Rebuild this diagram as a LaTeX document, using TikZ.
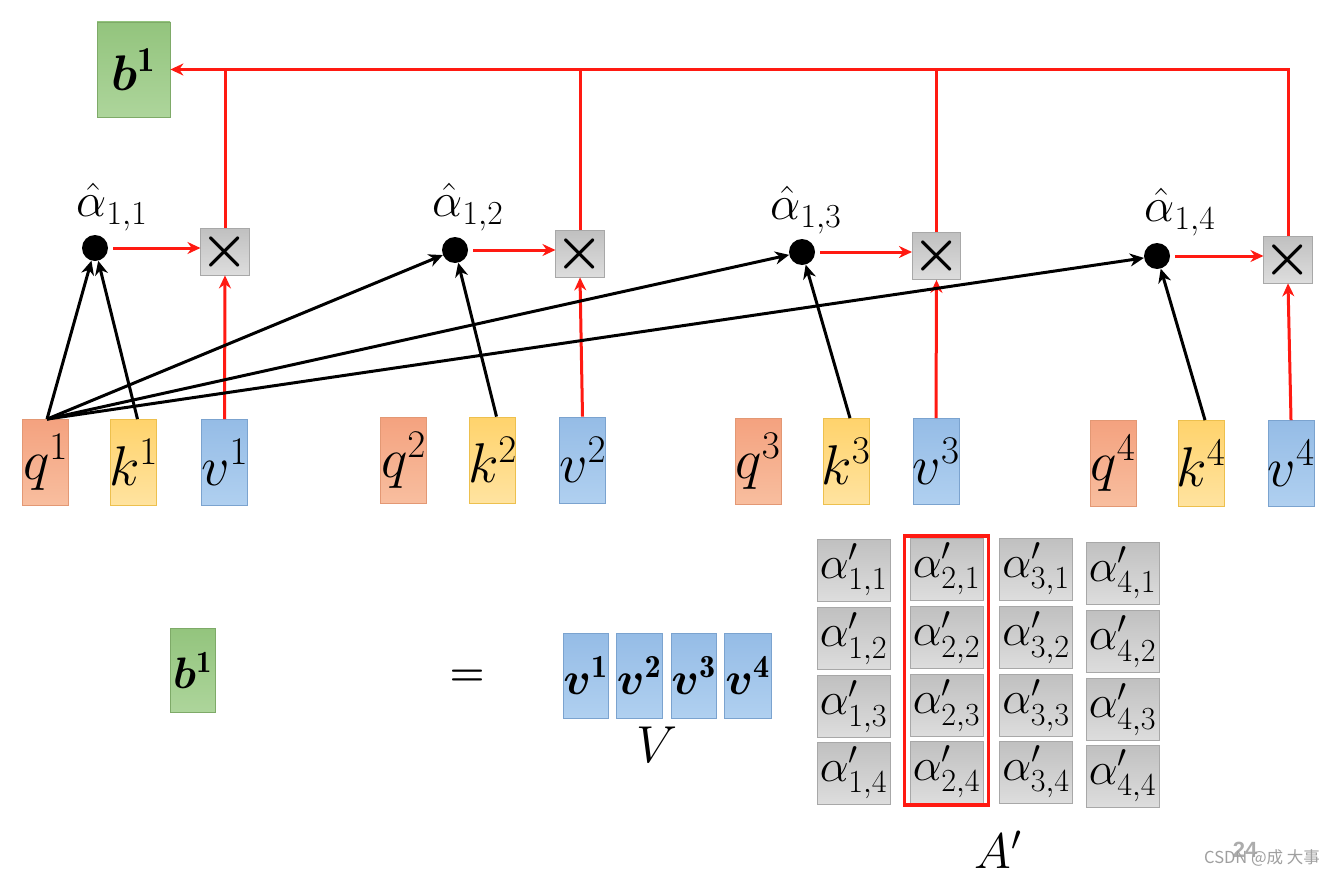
\RequirePackage{fix-cm}
\documentclass[tikz,border=0pt]{standalone}
\usepackage{fontspec}
\usepackage{amsmath,bm}
\usetikzlibrary{arrows.meta,fit}
\newfontfamily\cjk{Noto Sans CJK SC}
\newfontfamily\wmsans{Liberation Sans}
\definecolor{qtop}{HTML}{F4A27F}\definecolor{qbot}{HTML}{F8BE9F}\definecolor{qbd}{HTML}{E39874}
\definecolor{ktop}{HTML}{FFD36C}\definecolor{kbot}{HTML}{FFE3A0}\definecolor{kbd}{HTML}{EDC04E}
\definecolor{vtop}{HTML}{95BCE6}\definecolor{vbot}{HTML}{B0D0F0}\definecolor{vbd}{HTML}{7BA3CF}
\definecolor{gtop}{HTML}{93C47D}\definecolor{gbot}{HTML}{ADD59B}\definecolor{gbd}{HTML}{7EAA68}
\definecolor{ctop}{HTML}{C0C0C0}\definecolor{cbot}{HTML}{DDDDDD}\definecolor{cbd}{HTML}{A8A8A8}
\definecolor{arred}{HTML}{FF1A12}
\begin{document}
\begin{tikzpicture}[x=1pt,y=-1pt,
  box/.style={inner sep=0pt, line width=0.8pt, minimum width=46pt, minimum height=86pt,
              font=\fontsize{56}{66}\selectfont},
  qb/.style={box, draw=qbd, top color=qtop, bottom color=qbot},
  kb/.style={box, draw=kbd, top color=ktop, bottom color=kbot},
  vb/.style={box, draw=vbd, top color=vtop, bottom color=vbot},
  gb/.style={box, draw=gbd, top color=gtop, bottom color=gbot},
  mul/.style={draw=cbd, top color=ctop, bottom color=cbot, line width=0.8pt,
              minimum width=46pt, minimum height=47pt, inner sep=0pt,
              font=\fontsize{54}{64}\selectfont},
  dotn/.style={circle, fill=black, minimum size=26pt, inner sep=0pt},
  cell/.style={draw=cbd, top color=ctop, bottom color=cbot, line width=0.8pt,
               minimum width=73pt, minimum height=62pt, inner sep=0pt,
               font=\fontsize{46}{54}\selectfont},
  lbl/.style={font=\fontsize{48}{56}\selectfont, inner sep=0pt},
  rline/.style={draw=arred, line width=3pt},
  rarr/.style={rline, -{Stealth[length=13pt,width=12pt]}},
  barr/.style={draw=black, line width=3pt, -{Stealth[length=14pt,width=13pt]}}]
\useasboundingbox (0,0) rectangle (1332,875);
\fill[white] (0,0) rectangle (1332,875);

% top output box
\node[gb, minimum width=73pt, minimum height=95pt, font=\fontsize{50}{58}\selectfont] (B) at (133.5,69.5)
  {\makebox[0pt]{$\bm{b}^{\mathbf{1}}$}};

% q k v rows
\foreach \i/\qx/\kx/\vx/\y in {1/45.5/133.5/224.5/462.5, 2/403.5/492.5/582.5/460,
                               3/758/846/936/461.5, 4/1113/1201/1291/463.5}{
  \node[qb] (q\i) at (\qx,\y) {\makebox[0pt]{$q^{\i}$}};
  \node[kb] (k\i) at (\kx,\y) {\makebox[0pt]{$k^{\i}$}};
  \node[vb] (v\i) at (\vx,\y) {\makebox[0pt]{$v^{\i}$}};
}

% dots and multiply boxes
\foreach \i/\dx/\dy/\mx/\my/\lx/\ly in {1/95/248/225/251.5/112/207, 2/455/250/580/253.5/468/207,
                                       3/802/252/936.5/256/806/210, 4/1157/256/1288/259.5/1180/212}{
  \node[dotn] (d\i) at (\dx,\dy) {};
  \node[mul] (m\i) at (\mx,\my) {$\bm{\times}$};
  \node[lbl] (h\i) at (\lx,\ly) {$\hat{\alpha}_{1,\i}$};
  \draw[rarr, shorten <=5pt] (d\i.east) -- (d\i.east -| m\i.west);
  \draw[rarr] (v\i.north) -- (m\i.south);
  \draw[barr] ([xshift=4pt]k\i.north) -- (d\i);
  \draw[barr] ([xshift=1.5pt]q1.north) -- (d\i);
}

% outputs to b^1
\draw[rarr] (m4.north) |- (B.east);
\foreach \i in {1,2,3}{
  \draw[rline] (m\i.north) -- (m\i.north |- B.east);
}

% bottom equation
\node[gb, minimum width=45pt, minimum height=84pt, font=\fontsize{44}{52}\selectfont] (b2) at (192.5,670)
  {\makebox[0pt]{$\bm{b}^{\mathbf{1}}$}};
\node[font=\fontsize{40}{48}\selectfont, inner sep=0pt] (eq) at (467,678) {$\bm{=}$};
\foreach \j/\x/\w in {1/585.5/45, 2/639/46, 3/693.5/45, 4/747.5/47}{
  \node[vb, minimum width=\w pt, minimum height=85pt, font=\fontsize{46}{54}\selectfont] (vv\j) at (\x,675.5)
    {\makebox[0pt]{$\bm{v}^{\mathbf{\j}}$}};
}
\node[font=\fontsize{52}{62}\selectfont, inner sep=0pt] (Vl) at (657,745) {$V$};

% attention matrix
\foreach \c/\x/\o in {1/853.5/1, 2/946.5/0, 3/1036/0, 4/1122.5/4}{
  \foreach \r/\y in {1/569, 2/637.5, 3/705.5, 4/772}{
    \node[cell] (a\c\r) at (\x,\y+\o) {\makebox[0pt]{$\alpha'_{\c,\r}$}};
  }
}
\node[draw=arred, line width=3.5pt, inner xsep=5pt, inner ysep=1.5pt, fit=(a21)(a24)] (sel) {};
\node[font=\fontsize{50}{60}\selectfont, inner sep=0pt] (Al) at (998,850) {$A'$};

% slide number and watermark
\node[text=gray!65, font=\wmsans\bfseries\fontsize{22}{26}\selectfont, inner sep=0pt] (pg) at (1245,850) {24};
\node[text=gray!75, font=\cjk\fontsize{16.5}{20}\selectfont, anchor=west, inner sep=0pt] (wm) at (1204,858) {CSDN @成 大事};
\end{tikzpicture}
\end{document}
